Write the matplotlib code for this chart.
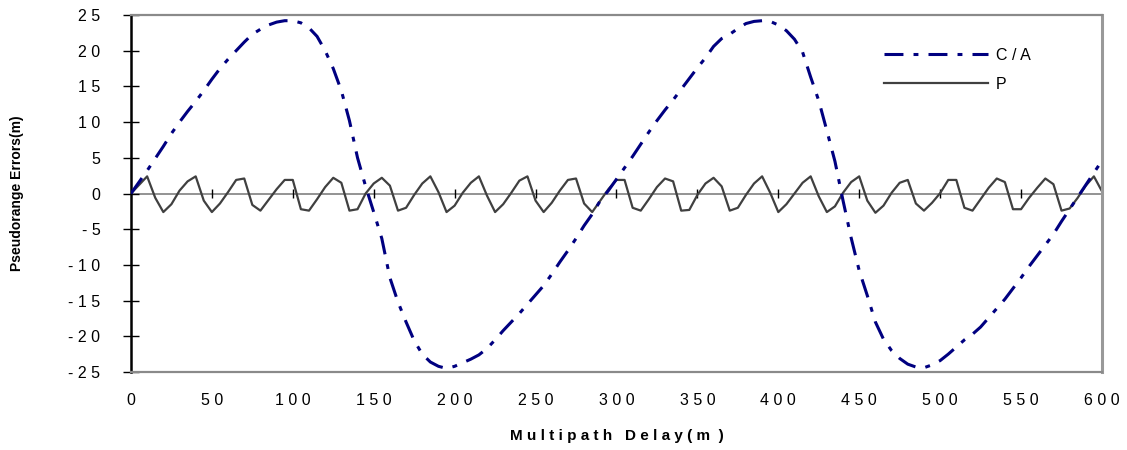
import numpy as np
from matplotlib import pyplot as plt

# multipath delay (m), sampled every 5 m
delay = np.arange(0, 605, 5)

# C/A code pseudorange error (m)
ca_err = [0, 1.6, 3.2, 4.9, 6.6, 8.4, 10.0, 11.5, 12.9, 14.4,
          16.0, 17.5, 18.8, 20.0, 21.2, 22.3, 23.0, 23.6, 24.0, 24.2,
          24.2, 23.9, 23.2, 22.0, 20.0, 17.5, 14.4, 10.2, 5.0, 1.0,
          -2.6, -6.3, -11.8, -15.2, -18.0, -20.6, -22.5, -23.6, -24.2, -24.5,
          -24.2, -23.7, -23.2, -22.6, -21.7, -20.5, -19.2, -18.0, -16.8, -15.5,
          -14.2, -12.9, -11.3, -9.6, -8.0, -6.3, -4.5, -2.9, -1.0, 0.4,
          2.0, 3.6, 5.2, 6.9, 8.6, 10.2, 11.7, 13.1, 14.6, 16.1,
          17.6, 19.0, 20.6, 21.7, 22.3, 23.1, 23.8, 24.1, 24.2, 24.1,
          23.6, 22.8, 21.6, 19.8, 16.3, 13.0, 8.8, 4.5, -1.0, -6.2,
          -10.8, -14.3, -18.0, -20.4, -22.0, -23.1, -23.9, -24.3, -24.4, -24.0,
          -23.4, -22.5, -21.5, -20.5, -19.7, -18.7, -17.4, -16.1, -14.8, -13.3,
          -11.8, -10.2, -8.7, -7.2, -5.7, -3.9, -2.2, -0.5, 1.2, 2.9,
          4.6]

# P code pseudorange error (m)
p_err = [0, 1.2, 2.4, -0.6, -2.6, -1.5, 0.4, 1.7, 2.4, -1.0,
         -2.6, -1.4, 0.2, 1.9, 2.1, -1.6, -2.4, -0.9, 0.6, 1.9,
         1.9, -2.2, -2.4, -0.8, 0.9, 2.2, 1.5, -2.4, -2.2, 0.0,
         1.4, 2.2, 1.1, -2.4, -2.0, -0.2, 1.4, 2.4, 0.2, -2.6,
         -1.7, 0.1, 1.5, 2.4, -0.3, -2.6, -1.5, 0.1, 1.8, 2.4,
         -1.0, -2.6, -1.3, 0.4, 1.9, 2.1, -1.4, -2.6, -1.0, 0.6,
         1.9, 1.9, -2.0, -2.4, -0.8, 0.9, 2.1, 1.7, -2.4, -2.3,
         -0.2, 1.4, 2.2, 1.0, -2.4, -2.0, -0.2, 1.4, 2.4, 0.1,
         -2.6, -1.5, 0.0, 1.5, 2.4, -0.4, -2.6, -1.8, 0.1, 1.6,
         2.4, -1.0, -2.7, -1.7, 0.1, 1.5, 1.9, -1.4, -2.4, -1.3,
         0.05, 1.9, 1.9, -2.0, -2.4, -0.8, 0.8, 2.1, 1.6, -2.2,
         -2.2, -0.6, 0.8, 2.1, 1.3, -2.4, -2.1, -0.6, 1.1, 2.4,
         0.3]

xticks = [0, 50, 100, 150, 200, 250, 300, 350, 400, 450, 500, 550, 600]
yticks = [-25, -20, -15, -10, -5, 0, 5, 10, 15, 20, 25]

plt.rcParams['font.family'] = ['Liberation Sans', 'DejaVu Sans']

fig = plt.figure(figsize=(11.27, 4.5), dpi=100)
ax = fig.add_axes([0.1162, 0.1733, 0.8616, 0.7934])

# zero line with small x tick marks on it
ax.axhline(0, color='#808080', lw=1.2, zorder=1)
ax.vlines(xticks[1:], -0.65, 0.65, color='black', lw=1, zorder=1)

p_line, = ax.plot(delay, p_err, color='#404040', lw=1.6, label='P', zorder=2)
ca_line, = ax.plot(delay, ca_err, color='#000080', lw=2.2,
                   linestyle=(0, (6.2, 3.3, 1.6, 3.3)), label='C / A', zorder=3)

ax.set_xlim(0, 600)
ax.set_ylim(-25, 25)

ax.set_xticks(xticks)
ax.set_xticklabels([' '.join(str(t)) for t in xticks], fontsize=11.5)
ax.set_yticks(yticks)
ax.set_yticklabels([' '.join(str(t)) for t in yticks], fontsize=11.5)
ax.tick_params(axis='x', length=0, pad=15)
ax.tick_params(axis='y', direction='inout', length=12, width=1, pad=16)

# frame
ax.spines['left'].set_color('black')
ax.spines['left'].set_linewidth(1.8)
for s in ['top', 'bottom']:
    ax.spines[s].set_color('#8a8a8a')
    ax.spines[s].set_linewidth(1.6)
ax.spines['right'].set_color('#999999')
ax.spines['right'].set_linewidth(2.2)

ax.set_xlabel('M u l t i p a t h   D e l a y ( m  )', fontsize=11, fontweight='bold', labelpad=15)
ax.set_ylabel('Pseudorange Errors(m)', fontsize=10, fontweight='bold', labelpad=32)

ax.legend(handles=[ca_line, p_line], loc='upper left', bbox_to_anchor=(0.767, 0.93),
          frameon=False, fontsize=11.5, handlelength=6.5, handletextpad=0.5,
          labelspacing=0.85, borderpad=0)

plt.savefig('out.png', dpi=100)
